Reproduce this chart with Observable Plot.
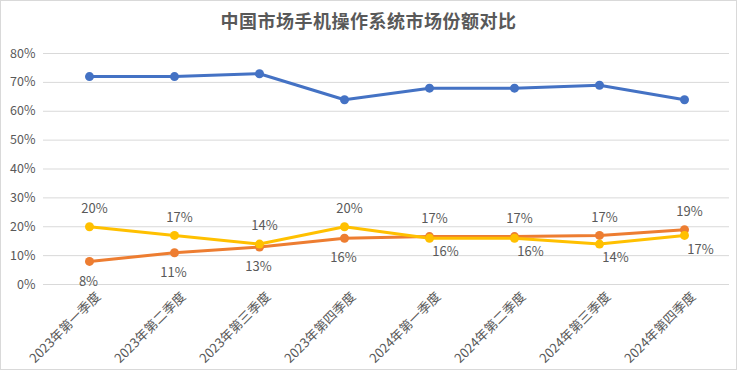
<!DOCTYPE html>
<html><head><meta charset="utf-8">
<script src="https://cdn.jsdelivr.net/npm/d3@7"></script>
<script src="https://cdn.jsdelivr.net/npm/@observablehq/plot@0.6"></script>
<style>
html,body{margin:0;padding:0;background:#fff;}
#wrap{position:relative;width:737px;height:370px;overflow:hidden;font-family:"Noto Sans CJK SC","Noto Sans",sans-serif;}
#title{position:absolute;left:0;top:7px;width:737px;text-align:center;font-size:18px;font-weight:bold;color:#595959;letter-spacing:0.5px;}
#chart{position:absolute;left:0;top:40px;}
#frame{position:absolute;left:0;top:0;width:735px;height:368px;border:1px solid #d9d9d9;pointer-events:none;}
</style></head>
<body><div id="wrap"><div id="title">中国市场手机操作系统市场份额对比</div><div id="chart"></div><div id="frame"></div></div>
<script>
const quarters = ["2023年第一季度","2023年第二季度","2023年第三季度","2023年第四季度","2024年第一季度","2024年第二季度","2024年第三季度","2024年第四季度"];
const blueValues = [72, 72, 73, 64, 68, 68, 69, 64];
const orangeValues = [8, 11, 13, 16, 16.6, 16.6, 17, 19];
const yellowValues = [20, 17, 14, 20, 16, 16, 14, 17];
const yTicks = [0,10,20,30,40,50,60,70,80];
const colors = {A:"#4472c4", B:"#ed7d31", C:"#ffc000"};

const rows = [];
quarters.forEach((q,i)=>{
  rows.push({q, s:"A", v:blueValues[i]});
  rows.push({q, s:"B", v:orangeValues[i]});
  rows.push({q, s:"C", v:yellowValues[i]});
});
// labels for orange & yellow: the higher one above, lower one below
const labels = [];
quarters.forEach((q,i)=>{
  const o = orangeValues[i], y = yellowValues[i];
  labels.push({q, i, s:"B", v:o, above: o >= y, t: Math.round(o)+"%"});
  labels.push({q, i, s:"C", v:y, above: y > o, t: Math.round(y)+"%"});
});
const above = labels.filter(d=>d.above);
const belowEarly = labels.filter(d=>!d.above && d.i < 4);
const belowLate = labels.filter(d=>!d.above && d.i >= 4);

const plot = Plot.plot({
  width: 737, height: 330,
  marginLeft: 43, marginRight: 8, marginTop: 13, marginBottom: 86,
  style: {fontFamily: '"Noto Sans CJK SC","Noto Sans",sans-serif', color:"#595959", background:"transparent"},
  x: {type:"point", domain: quarters, padding:0.5, label:null},
  y: {domain:[0,80], label:null},
  marks: [
    Plot.gridY(yTicks, {stroke:"#d9d9d9", strokeOpacity:1, strokeWidth:1}),
    Plot.axisY(yTicks, {tickSize:0, tickPadding:8, fontSize:12.5, tickFormat:d=>d+"%", fill:"#595959"}),
    Plot.axisX({tickSize:0, tickRotate:-45, fontSize:13, tickPadding:6, dx:9, dy:4, fill:"#595959"}),
    Plot.line(rows, {x:"q", y:"v", z:"s", stroke:d=>colors[d.s], strokeWidth:3, curve:"linear"}),
    Plot.dot(rows, {x:"q", y:"v", fill:d=>colors[d.s], r:4.5, stroke:null}),
    Plot.text(above, {x:"q", y:"v", text:"t", dy:-18, dx:5, fontSize:13, fill:"#595959"}),
    Plot.text(belowEarly, {x:"q", y:"v", text:"t", dy:20, dx:-1, fontSize:13, fill:"#595959"}),
    Plot.text(belowLate, {x:"q", y:"v", text:"t", dy:14, dx:16, fontSize:13, fill:"#595959"})
  ]
});
document.getElementById("chart").appendChild(plot);
</script></body></html>
